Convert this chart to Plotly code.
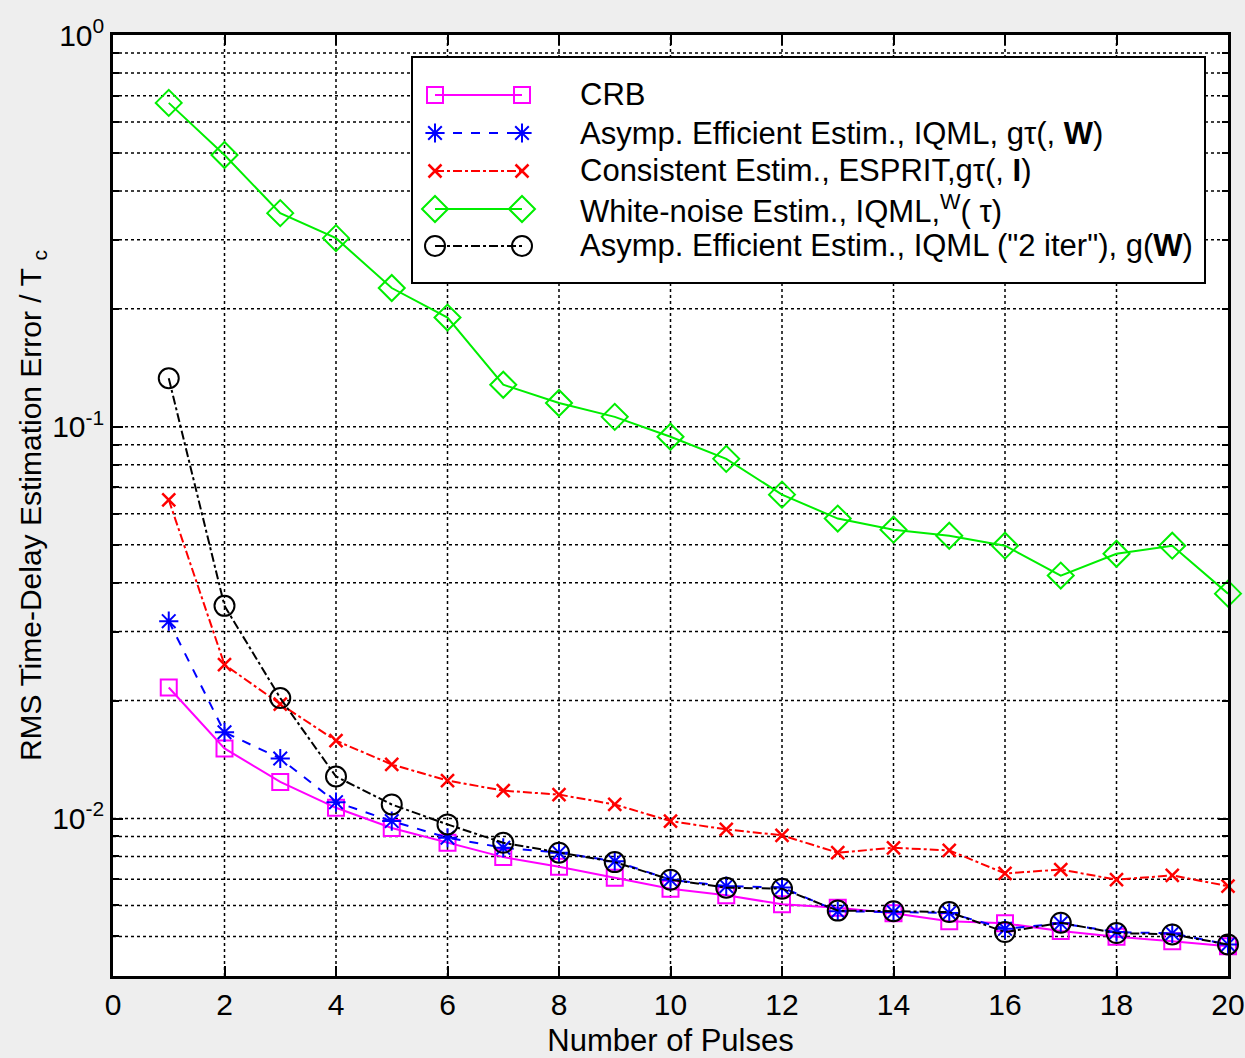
import math
import plotly.graph_objects as go

# ---- data -------------------------------------------------------------
pulses = list(range(1, 21))

crb = [0.0216, 0.0151, 0.0124, 0.01065, 0.00946, 0.00867, 0.00797, 0.00753,
       0.00706, 0.00662, 0.00637, 0.00604, 0.00592, 0.00573, 0.00547, 0.00540,
       0.00516, 0.00499, 0.00486, 0.00472]

iqml = [0.0319, 0.0166, 0.01423, 0.01101, 0.00985, 0.00893, 0.00842, 0.00818,
        0.00778, 0.00698, 0.00672, 0.00667, 0.00580, 0.00577, 0.00574, 0.00523,
        0.00540, 0.00513, 0.00509, 0.00477]

esprit = [0.0651, 0.0247, 0.0196, 0.0158, 0.01374, 0.0125, 0.01178, 0.01151,
          0.01086, 0.00985, 0.00938, 0.00906, 0.00818, 0.00842, 0.00829, 0.00724,
          0.00741, 0.00698, 0.00716, 0.00672]

white_noise = [0.671, 0.494, 0.351, 0.303, 0.226, 0.190, 0.128, 0.115, 0.106,
               0.0943, 0.0828, 0.0671, 0.0583, 0.0546, 0.0527, 0.0497, 0.0417,
               0.0474, 0.0497, 0.0375]

iqml_2iter = [0.133, 0.0349, 0.0203, 0.0128, 0.01086, 0.00966, 0.00867, 0.00818,
              0.00774, 0.00698, 0.00666, 0.00662, 0.00582, 0.00580, 0.00577,
              0.00513, 0.00542, 0.00510, 0.00506, 0.00477]

x_ticks = list(range(0, 21, 2))
y_major = [0.01, 0.1, 1]
y_major_text = ["10<sup>-2</sup>", "10<sup>-1</sup>", "10<sup>0</sup>"]
y_minor = [k * 10.0 ** e for e in (-3, -2, -1) for k in range(2, 10)
           if 0.0041 < k * 10.0 ** e < 1]

legend_labels = [
    "CRB",
    "Asymp. Efficient Estim., IQML, gτ(, <b>W</b>)",
    "Consistent Estim., ESPRIT,gτ(, <b>I</b>)",
    "White-noise Estim., IQML,<sup>W</sup>( τ)",
    "Asymp. Efficient Estim., IQML (\"2 iter\"), g(<b>W</b>)",
]

# ---- styles -----------------------------------------------------------
FONT = "Arial, Liberation Sans, sans-serif"
series = [
    (crb,         dict(color="#ff00ff", width=2, dash="solid"),
                  dict(symbol="square-open", size=16, color="#ff00ff", line=dict(width=2))),
    (iqml,        dict(color="#0000ff", width=2, dash="dash"),
                  dict(symbol="asterisk-open", size=16, color="#0000ff", line=dict(width=2, color="#0000ff"))),
    (esprit,      dict(color="#ff0000", width=2, dash="dashdot"),
                  dict(symbol="x-thin-open", size=13, color="#ff0000", line=dict(width=2.5, color="#ff0000"))),
    (white_noise, dict(color="#00ee00", width=2, dash="solid"),
                  dict(symbol="diamond-open", size=20, color="#00ee00", line=dict(width=2))),
    (iqml_2iter,  dict(color="#000000", width=2, dash="dashdot"),
                  dict(symbol="circle-open", size=20, color="#000000", line=dict(width=2))),
]

X_RANGE = [0, 20]
Y_LOG_RANGE = [-2.402, 0]

fig = go.Figure()
for vals, line, marker in series:
    fig.add_trace(go.Scatter(x=pulses, y=vals, mode="lines+markers",
                             line=line, marker=marker, showlegend=False,
                             cliponaxis=False))

# ---- dotted grid drawn as shapes beneath everything --------------------
GRID = dict(color="black", width=1.5, dash="dot")


def yfrac(v):
    return (math.log10(v) - Y_LOG_RANGE[0]) / (Y_LOG_RANGE[1] - Y_LOG_RANGE[0])


for xv in x_ticks[1:-1]:
    fig.add_shape(type="line", xref="x", yref="paper", x0=xv, x1=xv, y0=0, y1=1,
                  line=GRID, layer="below")
for yv in y_major[:-1] + y_minor:
    f = yfrac(yv)
    fig.add_shape(type="line", xref="paper", yref="paper", x0=0, x1=1, y0=f, y1=f,
                  line=GRID, layer="below")

# ---- hand-drawn legend (pixel layout converted to plot-area fractions) -
W, H = 1245, 1058
L, R, T, B = 113, 17, 35, 82
PW, PH = W - L - R, H - T - B


def px(xp):
    return (xp - L) / PW


def py(yp):
    return (H - B - yp) / PH


def fx(f):
    return X_RANGE[0] + f * (X_RANGE[1] - X_RANGE[0])


def fy(f):
    return 10 ** (Y_LOG_RANGE[0] + f * (Y_LOG_RANGE[1] - Y_LOG_RANGE[0]))


# white box added after the grid so it covers it, still under the traces
fig.add_shape(type="rect", xref="paper", yref="paper",
              x0=px(412), x1=px(1205), y0=py(283), y1=py(57),
              fillcolor="white", line=dict(color="black", width=2),
              layer="below")

row_y = [95, 133, 171, 209, 246]
for (vals, line, marker), label, ry in zip(series, legend_labels, row_y):
    sy = fy(py(ry))
    fig.add_trace(go.Scatter(x=[fx(px(435)), fx(px(522))], y=[sy, sy],
                             mode="lines+markers", line=line, marker=marker,
                             showlegend=False, hoverinfo="skip"))
    fig.add_annotation(xref="paper", yref="paper", x=px(578), y=py(ry),
                       text=label, showarrow=False, xanchor="left",
                       yanchor="middle",
                       font=dict(family=FONT, size=31, color="black"))

axis_line = dict(showline=True, linecolor="black", linewidth=2.5, mirror="allticks",
                 ticks="inside", tickcolor="black", tickwidth=1.5, zeroline=False,
                 showgrid=False, automargin=False)

fig.update_layout(
    width=W, height=H,
    margin=dict(l=L, r=R, t=T, b=B, autoexpand=False),
    paper_bgcolor="#eeeeee",
    plot_bgcolor="white",
    font=dict(family=FONT, size=30, color="black"),
    xaxis=dict(range=X_RANGE, tickvals=x_ticks, ticklen=10,
               tickfont=dict(size=30),
               title=dict(text="Number of Pulses", font=dict(size=31), standoff=12),
               **axis_line),
    yaxis=dict(type="log", range=Y_LOG_RANGE, tickvals=y_major,
               ticktext=y_major_text, ticklen=10, tickfont=dict(size=30),
               title=dict(text="RMS Time-Delay Estimation Error / T <sub>c</sub>",
                          font=dict(size=30), standoff=2),
               minor=dict(tickmode="array", tickvals=y_minor, ticks="inside",
                          ticklen=6, tickcolor="black", showgrid=False),
               **axis_line),
)

fig.write_html("out.html")
